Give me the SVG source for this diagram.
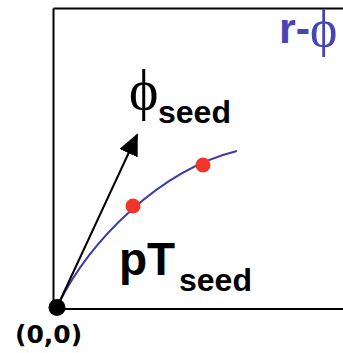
<svg xmlns="http://www.w3.org/2000/svg" width="343" height="353" viewBox="0 0 343 353">
<style>
.lbl{font-family:"Liberation Sans",Arial,sans-serif;font-weight:bold;fill:#000}
.sym{font-family:"Liberation Serif","Times New Roman",serif;}
</style>
<defs>
<marker id="ah" markerUnits="userSpaceOnUse" viewBox="0 0 22 20" refX="20" refY="10" markerWidth="22" markerHeight="20" orient="auto">
<path d="M0,0 L22,10 L0,20 Z" fill="#000"/>
</marker>
</defs>
<rect width="343" height="353" fill="#fff"/>
<g id="frame">
<path d="M53.5,8.5 H345 M53.5,8.5 V309 H345" fill="none" stroke="#000" stroke-width="2"/>
</g>
<g id="connectors">
<path id="track" d="M58,305 C90,240 160,170 237,151" fill="none" stroke="#3b3ba8" stroke-width="2"/>
<line id="phi-arrow" x1="58" y1="305" x2="137" y2="135" stroke="#000" stroke-width="2" marker-end="url(#ah)"/>
</g>
<g id="origin">
<circle cx="57" cy="307.5" r="8.5" fill="#000"/>
<text x="15" y="343" font-size="25" font-family="DejaVu Sans,Verdana,sans-serif" font-weight="bold">(0,0)</text>
</g>
<g id="hit1"><circle cx="133" cy="206" r="7.5" fill="#f03628"/></g>
<g id="hit2"><circle cx="203" cy="165" r="7.5" fill="#f03628"/></g>
<g id="phi-label">
<text x="129" y="109" font-size="56" class="sym">ϕ</text>
<text class="lbl" x="158" y="123" font-size="32">seed</text>
</g>
<g id="pt-label">
<text class="lbl" x="119" y="275" font-size="46">pT</text>
<text class="lbl" x="179" y="291" font-size="32">seed</text>
</g>
<g id="view-label">
<text x="279" y="43" font-size="43" fill="#4646b2"><tspan font-family="Liberation Sans,Arial,sans-serif" font-weight="bold">r-</tspan><tspan class="sym" font-size="52" dy="3">ϕ</tspan></text>
</g>
</svg>
